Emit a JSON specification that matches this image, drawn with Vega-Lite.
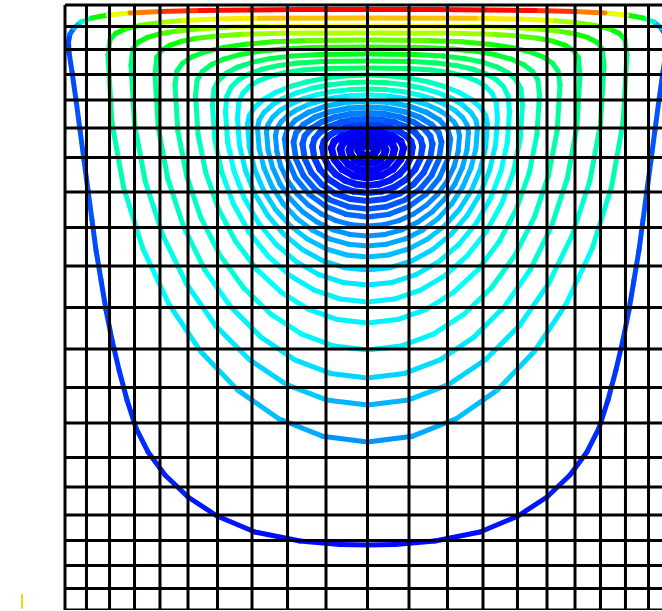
{
"$schema":"https://vega.github.io/schema/vega-lite/v6.json",
"width":605,"height":605,
"autosize":{"type":"none"},
"padding":{"left":65,"top":5,"right":0,"bottom":0},
"background":"white",
"config":{"view":{"stroke":null}},
"datasets":{
"stream":[
{"r":0,"i":0,"x":50,"y":10.74,"v":0.14},{"r":0,"i":1,"x":45.45,"y":10.83,"v":0.14},{"r":0,"i":2,"x":38.84,"y":11.4,"v":0.14},{"r":0,"i":3,"x":31.4,"y":12.89,"v":0.15},{"r":0,"i":4,"x":25.12,"y":15.54,"v":0.15},{"r":0,"i":5,"x":20.33,"y":18.68,"v":0.16},{"r":0,"i":6,"x":16.53,"y":22.31,"v":0.16},{"r":0,"i":7,"x":13.72,"y":26.12,"v":0.17},{"r":0,"i":8,"x":11.74,"y":30.08,"v":0.17},{"r":0,"i":9,"x":10.25,"y":34.71,"v":0.18},{"r":0,"i":10,"x":8.93,"y":39.67,"v":0.18},{"r":0,"i":11,"x":7.77,"y":44.63,"v":0.19},{"r":0,"i":12,"x":6.78,"y":49.59,"v":0.19},{"r":0,"i":13,"x":5.95,"y":54.55,"v":0.2},{"r":0,"i":14,"x":5.12,"y":59.5,"v":0.2},{"r":0,"i":15,"x":4.46,"y":64.46,"v":0.21},{"r":0,"i":16,"x":3.8,"y":69.42,"v":0.21},{"r":0,"i":17,"x":3.14,"y":74.38,"v":0.21},{"r":0,"i":18,"x":2.48,"y":79.34,"v":0.21},{"r":0,"i":19,"x":1.82,"y":84.3,"v":0.2},{"r":0,"i":20,"x":1.16,"y":88.93,"v":0.2},{"r":0,"i":21,"x":0.66,"y":92.23,"v":0.19},{"r":0,"i":22,"x":0.58,"y":93.88,"v":0.2},{"r":0,"i":23,"x":0.83,"y":95.21,"v":0.23},{"r":0,"i":24,"x":1.49,"y":96.2,"v":0.3},{"r":0,"i":25,"x":2.64,"y":97.19,"v":0.4},{"r":0,"i":26,"x":4.46,"y":97.85,"v":0.5},{"r":0,"i":27,"x":7.11,"y":98.35,"v":0.62},{"r":0,"i":28,"x":10.74,"y":98.68,"v":0.75},{"r":0,"i":29,"x":15.7,"y":98.93,"v":0.82},{"r":0,"i":30,"x":22.31,"y":99.09,"v":0.86},{"r":0,"i":31,"x":30.58,"y":99.17,"v":0.87},{"r":0,"i":32,"x":38.84,"y":99.26,"v":0.87},{"r":0,"i":33,"x":50,"y":99.26,"v":0.87},
{"r":1,"i":0,"x":50,"y":27.77,"v":0.27},{"r":1,"i":1,"x":42.54,"y":28.73,"v":0.29},{"r":1,"i":2,"x":35.33,"y":31.61,"v":0.31},{"r":1,"i":3,"x":28.55,"y":36.34,"v":0.33},{"r":1,"i":4,"x":22.42,"y":42.74,"v":0.35},{"r":1,"i":5,"x":17.15,"y":50.61,"v":0.37},{"r":1,"i":6,"x":12.86,"y":59.75,"v":0.39},{"r":1,"i":7,"x":9.68,"y":69.86,"v":0.41},{"r":1,"i":8,"x":7.75,"y":80.61,"v":0.43},{"r":1,"i":9,"x":7.11,"y":91.74,"v":0.44},{"r":1,"i":10,"x":7.45,"y":94.29,"v":0.47},{"r":1,"i":11,"x":8.4,"y":95.31,"v":0.5},{"r":1,"i":12,"x":10.07,"y":96.06,"v":0.53},{"r":1,"i":13,"x":12.47,"y":96.64,"v":0.56},{"r":1,"i":14,"x":15.6,"y":97.09,"v":0.59},{"r":1,"i":15,"x":19.68,"y":97.43,"v":0.62},{"r":1,"i":16,"x":24.91,"y":97.67,"v":0.65},{"r":1,"i":17,"x":32.11,"y":97.8,"v":0.69},{"r":1,"i":18,"x":50,"y":97.85,"v":0.72},
{"r":2,"i":0,"x":50,"y":33.88,"v":0.3},{"r":2,"i":1,"x":43.2,"y":34.72,"v":0.32},{"r":2,"i":2,"x":36.63,"y":37.25,"v":0.33},{"r":2,"i":3,"x":30.45,"y":41.41,"v":0.35},{"r":2,"i":4,"x":24.86,"y":47.03,"v":0.36},{"r":2,"i":5,"x":20.06,"y":53.94,"v":0.38},{"r":2,"i":6,"x":16.15,"y":61.98,"v":0.39},{"r":2,"i":7,"x":13.26,"y":70.86,"v":0.41},{"r":2,"i":8,"x":11.5,"y":80.3,"v":0.43},{"r":2,"i":9,"x":10.91,"y":90.08,"v":0.44},{"r":2,"i":10,"x":11.22,"y":92.77,"v":0.46},{"r":2,"i":11,"x":12.08,"y":93.85,"v":0.49},{"r":2,"i":12,"x":13.61,"y":94.64,"v":0.51},{"r":2,"i":13,"x":15.8,"y":95.25,"v":0.54},{"r":2,"i":14,"x":18.65,"y":95.72,"v":0.56},{"r":2,"i":15,"x":22.36,"y":96.08,"v":0.58},{"r":2,"i":16,"x":27.13,"y":96.34,"v":0.61},{"r":2,"i":17,"x":33.7,"y":96.48,"v":0.63},{"r":2,"i":18,"x":50,"y":96.53,"v":0.65},
{"r":3,"i":0,"x":50,"y":38.35,"v":0.33},{"r":3,"i":1,"x":43.89,"y":39.1,"v":0.34},{"r":3,"i":2,"x":37.99,"y":41.35,"v":0.35},{"r":3,"i":3,"x":32.44,"y":45.06,"v":0.36},{"r":3,"i":4,"x":27.42,"y":50.07,"v":0.37},{"r":3,"i":5,"x":23.1,"y":56.23,"v":0.39},{"r":3,"i":6,"x":19.59,"y":63.39,"v":0.4},{"r":3,"i":7,"x":16.99,"y":71.3,"v":0.41},{"r":3,"i":8,"x":15.41,"y":79.72,"v":0.43},{"r":3,"i":9,"x":14.88,"y":88.43,"v":0.44},{"r":3,"i":10,"x":15.16,"y":91.32,"v":0.46},{"r":3,"i":11,"x":15.93,"y":92.49,"v":0.48},{"r":3,"i":12,"x":17.3,"y":93.34,"v":0.5},{"r":3,"i":13,"x":19.27,"y":94.0,"v":0.52},{"r":3,"i":14,"x":21.83,"y":94.5,"v":0.54},{"r":3,"i":15,"x":25.17,"y":94.89,"v":0.56},{"r":3,"i":16,"x":29.45,"y":95.16,"v":0.58},{"r":3,"i":17,"x":35.35,"y":95.31,"v":0.59},{"r":3,"i":18,"x":50,"y":95.37,"v":0.6},
{"r":4,"i":0,"x":50,"y":42.98,"v":0.35},{"r":4,"i":1,"x":44.46,"y":43.64,"v":0.36},{"r":4,"i":2,"x":39.12,"y":45.61,"v":0.37},{"r":4,"i":3,"x":34.09,"y":48.85,"v":0.38},{"r":4,"i":4,"x":29.54,"y":53.23,"v":0.39},{"r":4,"i":5,"x":25.63,"y":58.62,"v":0.39},{"r":4,"i":6,"x":22.44,"y":64.88,"v":0.4},{"r":4,"i":7,"x":20.09,"y":71.8,"v":0.41},{"r":4,"i":8,"x":18.66,"y":79.16,"v":0.42},{"r":4,"i":9,"x":18.18,"y":86.78,"v":0.43},{"r":4,"i":10,"x":18.5,"y":89.1,"v":0.44},{"r":4,"i":11,"x":19.45,"y":90.41,"v":0.46},{"r":4,"i":12,"x":21.08,"y":91.46,"v":0.47},{"r":4,"i":13,"x":23.37,"y":92.32,"v":0.49},{"r":4,"i":14,"x":26.29,"y":93.0,"v":0.5},{"r":4,"i":15,"x":29.95,"y":93.53,"v":0.52},{"r":4,"i":16,"x":34.44,"y":93.91,"v":0.53},{"r":4,"i":17,"x":40.07,"y":94.14,"v":0.55},{"r":4,"i":18,"x":50,"y":94.21,"v":0.56},
{"r":5,"i":0,"x":50,"y":47.44,"v":0.36},{"r":5,"i":1,"x":45.05,"y":48.01,"v":0.36},{"r":5,"i":2,"x":40.28,"y":49.7,"v":0.37},{"r":5,"i":3,"x":35.78,"y":52.49,"v":0.37},{"r":5,"i":4,"x":31.72,"y":56.26,"v":0.38},{"r":5,"i":5,"x":28.22,"y":60.89,"v":0.39},{"r":5,"i":6,"x":25.38,"y":66.28,"v":0.4},{"r":5,"i":7,"x":23.28,"y":72.23,"v":0.4},{"r":5,"i":8,"x":22.0,"y":78.56,"v":0.41},{"r":5,"i":9,"x":21.57,"y":85.12,"v":0.42},{"r":5,"i":10,"x":21.85,"y":87.6,"v":0.43},{"r":5,"i":11,"x":22.71,"y":89.0,"v":0.44},{"r":5,"i":12,"x":24.16,"y":90.12,"v":0.46},{"r":5,"i":13,"x":26.2,"y":91.04,"v":0.47},{"r":5,"i":14,"x":28.82,"y":91.77,"v":0.48},{"r":5,"i":15,"x":32.09,"y":92.34,"v":0.5},{"r":5,"i":16,"x":36.1,"y":92.74,"v":0.51},{"r":5,"i":17,"x":41.13,"y":92.98,"v":0.52},{"r":5,"i":18,"x":50,"y":93.06,"v":0.53},
{"r":6,"i":0,"x":50,"y":50.91,"v":0.36},{"r":6,"i":1,"x":45.54,"y":51.4,"v":0.36},{"r":6,"i":2,"x":41.24,"y":52.86,"v":0.36},{"r":6,"i":3,"x":37.19,"y":55.27,"v":0.37},{"r":6,"i":4,"x":33.53,"y":58.53,"v":0.37},{"r":6,"i":5,"x":30.37,"y":62.53,"v":0.38},{"r":6,"i":6,"x":27.81,"y":67.19,"v":0.38},{"r":6,"i":7,"x":25.92,"y":72.33,"v":0.39},{"r":6,"i":8,"x":24.76,"y":77.8,"v":0.39},{"r":6,"i":9,"x":24.38,"y":83.47,"v":0.4},{"r":6,"i":10,"x":24.64,"y":86.1,"v":0.41},{"r":6,"i":11,"x":25.4,"y":87.59,"v":0.42},{"r":6,"i":12,"x":26.71,"y":88.78,"v":0.43},{"r":6,"i":13,"x":28.56,"y":89.75,"v":0.44},{"r":6,"i":14,"x":30.91,"y":90.53,"v":0.45},{"r":6,"i":15,"x":33.86,"y":91.13,"v":0.46},{"r":6,"i":16,"x":37.47,"y":91.56,"v":0.47},{"r":6,"i":17,"x":42.01,"y":91.82,"v":0.49},{"r":6,"i":18,"x":50,"y":91.9,"v":0.5},
{"r":7,"i":0,"x":50,"y":53.72,"v":0.35},{"r":7,"i":1,"x":45.92,"y":54.15,"v":0.35},{"r":7,"i":2,"x":41.97,"y":55.44,"v":0.35},{"r":7,"i":3,"x":38.26,"y":57.55,"v":0.36},{"r":7,"i":4,"x":34.91,"y":60.41,"v":0.36},{"r":7,"i":5,"x":32.02,"y":63.93,"v":0.36},{"r":7,"i":6,"x":29.67,"y":68.01,"v":0.37},{"r":7,"i":7,"x":27.94,"y":72.53,"v":0.37},{"r":7,"i":8,"x":26.88,"y":77.34,"v":0.38},{"r":7,"i":9,"x":26.53,"y":82.31,"v":0.38},{"r":7,"i":10,"x":26.76,"y":84.94,"v":0.39},{"r":7,"i":11,"x":27.47,"y":86.43,"v":0.4},{"r":7,"i":12,"x":28.67,"y":87.62,"v":0.41},{"r":7,"i":13,"x":30.36,"y":88.59,"v":0.42},{"r":7,"i":14,"x":32.51,"y":89.37,"v":0.43},{"r":7,"i":15,"x":35.21,"y":89.97,"v":0.44},{"r":7,"i":16,"x":38.52,"y":90.4,"v":0.45},{"r":7,"i":17,"x":42.68,"y":90.66,"v":0.47},{"r":7,"i":18,"x":50,"y":90.74,"v":0.48},
{"r":8,"i":0,"x":50,"y":56.2,"v":0.33},{"r":8,"i":1,"x":46.26,"y":56.58,"v":0.33},{"r":8,"i":2,"x":42.65,"y":57.71,"v":0.33},{"r":8,"i":3,"x":39.25,"y":59.57,"v":0.34},{"r":8,"i":4,"x":36.18,"y":62.08,"v":0.34},{"r":8,"i":5,"x":33.54,"y":65.17,"v":0.34},{"r":8,"i":6,"x":31.39,"y":68.76,"v":0.35},{"r":8,"i":7,"x":29.8,"y":72.73,"v":0.35},{"r":8,"i":8,"x":28.83,"y":76.95,"v":0.36},{"r":8,"i":9,"x":28.51,"y":81.32,"v":0.36},{"r":8,"i":10,"x":28.72,"y":83.9,"v":0.37},{"r":8,"i":11,"x":29.37,"y":85.36,"v":0.38},{"r":8,"i":12,"x":30.47,"y":86.53,"v":0.39},{"r":8,"i":13,"x":32.01,"y":87.48,"v":0.4},{"r":8,"i":14,"x":33.99,"y":88.24,"v":0.41},{"r":8,"i":15,"x":36.46,"y":88.84,"v":0.42},{"r":8,"i":16,"x":39.49,"y":89.26,"v":0.43},{"r":8,"i":17,"x":43.3,"y":89.51,"v":0.45},{"r":8,"i":18,"x":50,"y":89.59,"v":0.46},
{"r":9,"i":0,"x":50,"y":58.35,"v":0.31},{"r":9,"i":1,"x":46.55,"y":58.68,"v":0.31},{"r":9,"i":2,"x":43.22,"y":59.67,"v":0.31},{"r":9,"i":3,"x":40.08,"y":61.3,"v":0.32},{"r":9,"i":4,"x":37.25,"y":63.49,"v":0.32},{"r":9,"i":5,"x":34.81,"y":66.2,"v":0.32},{"r":9,"i":6,"x":32.83,"y":69.34,"v":0.33},{"r":9,"i":7,"x":31.36,"y":72.81,"v":0.33},{"r":9,"i":8,"x":30.47,"y":76.51,"v":0.34},{"r":9,"i":9,"x":30.17,"y":80.33,"v":0.34},{"r":9,"i":10,"x":30.47,"y":81.74,"v":0.35},{"r":9,"i":11,"x":31.36,"y":83.1,"v":0.36},{"r":9,"i":12,"x":32.83,"y":84.38,"v":0.37},{"r":9,"i":13,"x":34.81,"y":85.54,"v":0.38},{"r":9,"i":14,"x":37.25,"y":86.53,"v":0.4},{"r":9,"i":15,"x":40.08,"y":87.34,"v":0.41},{"r":9,"i":16,"x":43.22,"y":87.94,"v":0.42},{"r":9,"i":17,"x":46.55,"y":88.31,"v":0.44},{"r":9,"i":18,"x":50,"y":88.43,"v":0.45},
{"r":10,"i":0,"x":50,"y":60.17,"v":0.29},{"r":10,"i":1,"x":46.84,"y":60.46,"v":0.29},{"r":10,"i":2,"x":43.78,"y":61.34,"v":0.29},{"r":10,"i":3,"x":40.91,"y":62.78,"v":0.3},{"r":10,"i":4,"x":38.31,"y":64.73,"v":0.3},{"r":10,"i":5,"x":36.07,"y":67.13,"v":0.3},{"r":10,"i":6,"x":34.26,"y":69.92,"v":0.3},{"r":10,"i":7,"x":32.91,"y":73.0,"v":0.31},{"r":10,"i":8,"x":32.09,"y":76.28,"v":0.31},{"r":10,"i":9,"x":31.82,"y":79.67,"v":0.31},{"r":10,"i":10,"x":32.09,"y":80.99,"v":0.32},{"r":10,"i":11,"x":32.91,"y":82.27,"v":0.33},{"r":10,"i":12,"x":34.26,"y":83.47,"v":0.35},{"r":10,"i":13,"x":36.07,"y":84.56,"v":0.36},{"r":10,"i":14,"x":38.31,"y":85.49,"v":0.38},{"r":10,"i":15,"x":40.91,"y":86.25,"v":0.4},{"r":10,"i":16,"x":43.78,"y":86.81,"v":0.41},{"r":10,"i":17,"x":46.84,"y":87.16,"v":0.43},{"r":10,"i":18,"x":50,"y":87.27,"v":0.44},
{"r":11,"i":0,"x":50,"y":61.82,"v":0.27},{"r":11,"i":1,"x":47.1,"y":62.08,"v":0.27},{"r":11,"i":2,"x":44.29,"y":62.85,"v":0.27},{"r":11,"i":3,"x":41.65,"y":64.12,"v":0.27},{"r":11,"i":4,"x":39.27,"y":65.84,"v":0.28},{"r":11,"i":5,"x":37.22,"y":67.96,"v":0.28},{"r":11,"i":6,"x":35.55,"y":70.41,"v":0.28},{"r":11,"i":7,"x":34.31,"y":73.13,"v":0.29},{"r":11,"i":8,"x":33.56,"y":76.02,"v":0.29},{"r":11,"i":9,"x":33.31,"y":79.01,"v":0.29},{"r":11,"i":10,"x":33.56,"y":80.25,"v":0.3},{"r":11,"i":11,"x":34.31,"y":81.44,"v":0.31},{"r":11,"i":12,"x":35.55,"y":82.57,"v":0.33},{"r":11,"i":13,"x":37.22,"y":83.58,"v":0.34},{"r":11,"i":14,"x":39.27,"y":84.46,"v":0.36},{"r":11,"i":15,"x":41.65,"y":85.17,"v":0.38},{"r":11,"i":16,"x":44.29,"y":85.69,"v":0.39},{"r":11,"i":17,"x":47.1,"y":86.01,"v":0.41},{"r":11,"i":18,"x":50,"y":86.12,"v":0.42},
{"r":12,"i":0,"x":50,"y":63.47,"v":0.25},{"r":12,"i":1,"x":47.35,"y":63.69,"v":0.25},{"r":12,"i":2,"x":44.8,"y":64.36,"v":0.25},{"r":12,"i":3,"x":42.39,"y":65.46,"v":0.25},{"r":12,"i":4,"x":40.22,"y":66.95,"v":0.26},{"r":12,"i":5,"x":38.35,"y":68.78,"v":0.26},{"r":12,"i":6,"x":36.83,"y":70.91,"v":0.26},{"r":12,"i":7,"x":35.7,"y":73.26,"v":0.27},{"r":12,"i":8,"x":35.02,"y":75.76,"v":0.27},{"r":12,"i":9,"x":34.79,"y":78.35,"v":0.27},{"r":12,"i":10,"x":35.02,"y":79.53,"v":0.28},{"r":12,"i":11,"x":35.7,"y":80.67,"v":0.29},{"r":12,"i":12,"x":36.83,"y":81.74,"v":0.3},{"r":12,"i":13,"x":38.35,"y":82.7,"v":0.31},{"r":12,"i":14,"x":40.22,"y":83.54,"v":0.33},{"r":12,"i":15,"x":42.39,"y":84.21,"v":0.34},{"r":12,"i":16,"x":44.8,"y":84.71,"v":0.35},{"r":12,"i":17,"x":47.35,"y":85.02,"v":0.37},{"r":12,"i":18,"x":50,"y":85.12,"v":0.38},
{"r":13,"i":0,"x":50,"y":64.96,"v":0.23},{"r":13,"i":1,"x":46.45,"y":65.4,"v":0.23},{"r":13,"i":2,"x":43.14,"y":66.69,"v":0.23},{"r":13,"i":3,"x":40.3,"y":68.74,"v":0.24},{"r":13,"i":4,"x":38.12,"y":71.4,"v":0.24},{"r":13,"i":5,"x":36.75,"y":74.51,"v":0.25},{"r":13,"i":6,"x":36.28,"y":77.85,"v":0.25},{"r":13,"i":7,"x":36.75,"y":79.48,"v":0.26},{"r":13,"i":8,"x":38.12,"y":80.99,"v":0.27},{"r":13,"i":9,"x":40.3,"y":82.29,"v":0.28},{"r":13,"i":10,"x":43.14,"y":83.29,"v":0.3},{"r":13,"i":11,"x":46.45,"y":83.92,"v":0.31},{"r":13,"i":12,"x":50,"y":84.13,"v":0.32},
{"r":14,"i":0,"x":50,"y":66.28,"v":0.21},{"r":14,"i":1,"x":46.83,"y":66.66,"v":0.21},{"r":14,"i":2,"x":43.88,"y":67.76,"v":0.21},{"r":14,"i":3,"x":41.35,"y":69.53,"v":0.22},{"r":14,"i":4,"x":39.41,"y":71.82,"v":0.22},{"r":14,"i":5,"x":38.19,"y":74.49,"v":0.23},{"r":14,"i":6,"x":37.77,"y":77.36,"v":0.23},{"r":14,"i":7,"x":38.19,"y":78.86,"v":0.24},{"r":14,"i":8,"x":39.41,"y":80.25,"v":0.25},{"r":14,"i":9,"x":41.35,"y":81.45,"v":0.26},{"r":14,"i":10,"x":43.88,"y":82.37,"v":0.27},{"r":14,"i":11,"x":46.83,"y":82.94,"v":0.28},{"r":14,"i":12,"x":50,"y":83.14,"v":0.28},
{"r":15,"i":0,"x":50,"y":67.6,"v":0.19},{"r":15,"i":1,"x":47.22,"y":67.92,"v":0.19},{"r":15,"i":2,"x":44.63,"y":68.86,"v":0.19},{"r":15,"i":3,"x":42.41,"y":70.36,"v":0.2},{"r":15,"i":4,"x":40.7,"y":72.31,"v":0.2},{"r":15,"i":5,"x":39.63,"y":74.58,"v":0.21},{"r":15,"i":6,"x":39.26,"y":77.02,"v":0.21},{"r":15,"i":7,"x":39.63,"y":78.35,"v":0.22},{"r":15,"i":8,"x":40.7,"y":79.59,"v":0.22},{"r":15,"i":9,"x":42.41,"y":80.65,"v":0.23},{"r":15,"i":10,"x":44.63,"y":81.46,"v":0.24},{"r":15,"i":11,"x":47.22,"y":81.98,"v":0.25},{"r":15,"i":12,"x":50,"y":82.15,"v":0.25},
{"r":16,"i":0,"x":50,"y":68.93,"v":0.17},{"r":16,"i":1,"x":47.65,"y":69.19,"v":0.17},{"r":16,"i":2,"x":45.45,"y":69.97,"v":0.17},{"r":16,"i":3,"x":43.57,"y":71.2,"v":0.18},{"r":16,"i":4,"x":42.13,"y":72.81,"v":0.18},{"r":16,"i":5,"x":41.22,"y":74.68,"v":0.19},{"r":16,"i":6,"x":40.91,"y":76.69,"v":0.19},{"r":16,"i":7,"x":41.22,"y":77.85,"v":0.2},{"r":16,"i":8,"x":42.13,"y":78.93,"v":0.2},{"r":16,"i":9,"x":43.57,"y":79.85,"v":0.21},{"r":16,"i":10,"x":45.45,"y":80.56,"v":0.21},{"r":16,"i":11,"x":47.65,"y":81.01,"v":0.22},{"r":16,"i":12,"x":50,"y":81.16,"v":0.22},
{"r":17,"i":0,"x":50,"y":70.17,"v":0.15},{"r":17,"i":1,"x":48.07,"y":70.39,"v":0.15},{"r":17,"i":2,"x":46.28,"y":71.02,"v":0.15},{"r":17,"i":3,"x":44.74,"y":72.03,"v":0.16},{"r":17,"i":4,"x":43.56,"y":73.35,"v":0.16},{"r":17,"i":5,"x":42.81,"y":74.88,"v":0.17},{"r":17,"i":6,"x":42.56,"y":76.53,"v":0.17},{"r":17,"i":7,"x":42.81,"y":77.47,"v":0.17},{"r":17,"i":8,"x":43.56,"y":78.35,"v":0.18},{"r":17,"i":9,"x":44.74,"y":79.1,"v":0.18},{"r":17,"i":10,"x":46.28,"y":79.68,"v":0.18},{"r":17,"i":11,"x":48.07,"y":80.05,"v":0.19},{"r":17,"i":12,"x":50,"y":80.17,"v":0.19},
{"r":18,"i":0,"x":50,"y":71.4,"v":0.13},{"r":18,"i":1,"x":47.72,"y":71.78,"v":0.13},{"r":18,"i":2,"x":45.79,"y":72.85,"v":0.13},{"r":18,"i":3,"x":44.5,"y":74.46,"v":0.13},{"r":18,"i":4,"x":44.05,"y":76.36,"v":0.13},{"r":18,"i":5,"x":44.5,"y":77.44,"v":0.13},{"r":18,"i":6,"x":45.79,"y":78.35,"v":0.13},{"r":18,"i":7,"x":47.72,"y":78.96,"v":0.13},{"r":18,"i":8,"x":50,"y":79.17,"v":0.13},
{"r":19,"i":0,"x":50,"y":72.56,"v":0.12},{"r":19,"i":1,"x":48.29,"y":72.84,"v":0.12},{"r":19,"i":2,"x":46.85,"y":73.63,"v":0.12},{"r":19,"i":3,"x":45.88,"y":74.81,"v":0.12},{"r":19,"i":4,"x":45.54,"y":76.2,"v":0.12},{"r":19,"i":5,"x":45.88,"y":77.02,"v":0.12},{"r":19,"i":6,"x":46.85,"y":77.72,"v":0.12},{"r":19,"i":7,"x":48.29,"y":78.19,"v":0.12},{"r":19,"i":8,"x":50,"y":78.35,"v":0.12},
{"r":20,"i":0,"x":50,"y":73.8,"v":0.11},{"r":20,"i":1,"x":48.86,"y":73.97,"v":0.11},{"r":20,"i":2,"x":47.89,"y":74.45,"v":0.11},{"r":20,"i":3,"x":47.25,"y":75.18,"v":0.11},{"r":20,"i":4,"x":47.02,"y":76.03,"v":0.11},{"r":20,"i":5,"x":47.25,"y":76.6,"v":0.11},{"r":20,"i":6,"x":47.89,"y":77.08,"v":0.11},{"r":20,"i":7,"x":48.86,"y":77.41,"v":0.11},{"r":20,"i":8,"x":50,"y":77.52,"v":0.11},
{"r":21,"i":0,"x":50,"y":75.04,"v":0.1},{"r":21,"i":1,"x":48.95,"y":75.33,"v":0.1},{"r":21,"i":2,"x":48.51,"y":76.03,"v":0.1},{"r":21,"i":3,"x":48.95,"y":76.5,"v":0.1},{"r":21,"i":4,"x":50,"y":76.69,"v":0.1}
],
"grid":[{"p":0},{"p":3.55},{"p":7.36},{"p":11.49},{"p":15.7},{"p":20.33},{"p":25.21},{"p":30.91},{"p":36.78},{"p":43.14},{"p":50},{"p":56.86},{"p":63.22},{"p":69.09},{"p":74.79},{"p":79.67},{"p":84.3},{"p":88.51},{"p":92.64},{"p":96.45},{"p":100}]
},
"layer":[
{"data":{"name":"stream"},
 "transform":[{"window":[{"op":"lead","field":"x","as":"x2"},{"op":"lead","field":"y","as":"y2"}],"groupby":["r"],"sort":[{"field":"i","order":"ascending"}]},{"filter":"isValid(datum.x2)"}],
 "mark":{"type":"rule","strokeCap":"round"},
 "encoding":{
  "x":{"field":"x","type":"quantitative","scale":{"domain":[0,100],"nice":false},"axis":null},
  "x2":{"field":"x2"},
  "y":{"field":"y","type":"quantitative","scale":{"domain":[0,100],"nice":false},"axis":null},
  "y2":{"field":"y2"},
  "size":{"field":"r","type":"quantitative","scale":{"domain":[12,21],"range":[5,8],"clamp":true},"legend":null},
  "color":{"field":"v","type":"quantitative","scale":{"domain":[0.08,0.13,0.37,0.5,0.63,0.87],"range":["#0000c0","#0000ff","#00ffff","#00ff00","#ffff00","#ff0000"],"interpolate":"rgb","clamp":true},"legend":null}
 }},
{"data":{"name":"stream"},
 "transform":[{"window":[{"op":"lead","field":"x","as":"x2"},{"op":"lead","field":"y","as":"y2"}],"groupby":["r"],"sort":[{"field":"i","order":"ascending"}]},{"filter":"isValid(datum.x2)"}],
 "mark":{"type":"rule","strokeCap":"round"},
 "encoding":{
  "x":{"field":"x","type":"quantitative","scale":{"domain":[0,100],"nice":false,"reverse":true},"axis":null},
  "x2":{"field":"x2"},
  "y":{"field":"y","type":"quantitative","scale":{"domain":[0,100],"nice":false},"axis":null},
  "y2":{"field":"y2"},
  "size":{"field":"r","type":"quantitative","scale":{"domain":[12,21],"range":[5,8],"clamp":true},"legend":null},
  "color":{"field":"v","type":"quantitative","scale":{"domain":[0.08,0.13,0.37,0.5,0.63,0.87],"range":["#0000c0","#0000ff","#00ffff","#00ff00","#ffff00","#ff0000"],"interpolate":"rgb","clamp":true},"legend":null}
 }},
{"data":{"name":"grid"},
 "mark":{"type":"rule","strokeWidth":3,"color":"#000000"},
 "encoding":{"x":{"field":"p","type":"quantitative","scale":{"domain":[0,100],"nice":false},"axis":null}}},
{"data":{"name":"grid"},
 "mark":{"type":"rule","strokeWidth":3,"color":"#000000"},
 "encoding":{"y":{"field":"p","type":"quantitative","scale":{"domain":[0,100],"nice":false},"axis":null}}},
{"data":{"values":[{"x":-7.1,"y":0.2,"y2":2.6}]},
 "mark":{"type":"rule","strokeWidth":2,"color":"#e6dc00","clip":false},
 "encoding":{
  "x":{"field":"x","type":"quantitative","scale":{"domain":[0,100],"nice":false},"axis":null},
  "y":{"field":"y","type":"quantitative","scale":{"domain":[0,100],"nice":false},"axis":null},
  "y2":{"field":"y2"}}}
],
"resolve":{"scale":{"x":"independent"}}
}
